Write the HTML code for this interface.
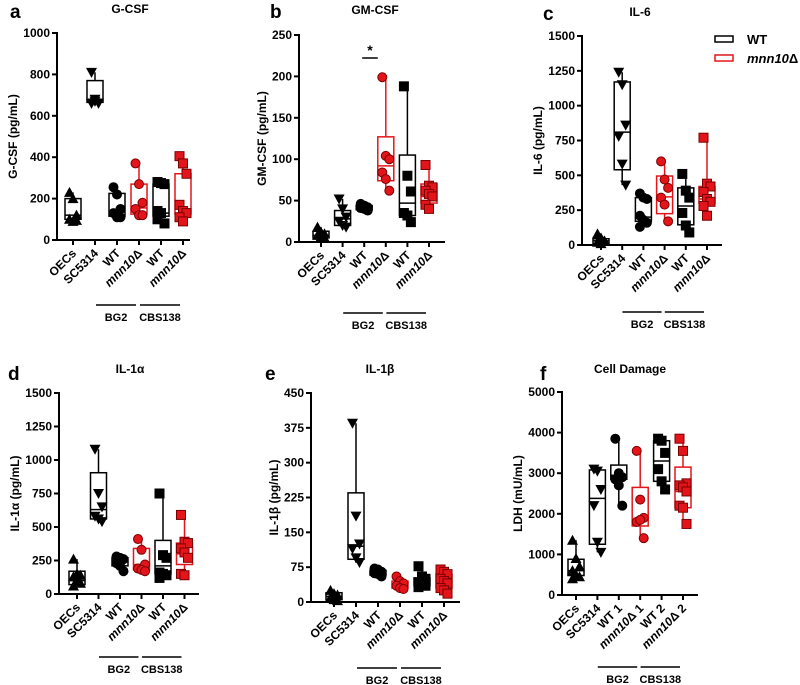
<!DOCTYPE html>
<html><head><meta charset="utf-8"><style>
body{margin:0;background:#fff}
svg{display:block;font-family:"Liberation Sans",sans-serif;font-weight:bold}
</style></head><body>
<svg id="fig" width="800" height="685" viewBox="0 0 800 685" xmlns="http://www.w3.org/2000/svg">
<g>
<rect x="715" y="36" width="18" height="6" fill="#fff" stroke="#000" stroke-width="1.5"/>
<text x="747" y="44" font-size="13">WT</text>
<rect x="715" y="55" width="18" height="6" fill="#fff" stroke="#e3151b" stroke-width="1.5"/>
<text x="747" y="63" font-size="13"><tspan font-style="italic">mnn10</tspan>Δ</text>
</g>
</svg>
<script>
const NS="http://www.w3.org/2000/svg";
const svg=document.getElementById('fig');
const RED="#e3151b";
const catsStd=["OECs","SC5314","WT","mnn10Δ","WT","mnn10Δ"];
const catsF=["OECs","SC5314","WT 1","mnn10Δ 1","WT 2","mnn10Δ 2"];
const shapes=["tri","dtri","circ","circ","sq","sq"];
const colors=["#000","#000","#000",RED,"#000",RED];
// panel a G-CSF
const aPts=[[230,200,120,100,90,95],[810,680,660,660,670],[255,220,150,130,110,110],[370,270,180,150,120,120],[280,275,270,140,130,80,100],[405,370,320,170,140,130,110,90]];
const aBox=[[90,100,120,200,230],[650,665,680,770,810],[110,115,135,225,255],[120,125,155,270,370],[80,115,130,270,280],[90,125,150,320,405]];
const aTicks=[0,200,400,600,800,1000];
// panel b GM-CSF
const bPts=[[18,12,10,8,6,5],[52,40,30,25,20,18],[46,44,42,41,40,38],[199,104,100,84,76,62],[188,80,61,35,32,24],[93,68,66,62,58,55,45,40]];
const bBox=[[3,5,8,13,18],[15,20,28,38,52],[37,39,41,44,46],[62,74,92,127,199],[24,32,47,105,188],[38,47,55,70,93]];
const bTicks=[0,50,100,150,200,250];
// panel c IL-6
const cPts=[[80,50,30,20,10],[1240,1150,860,780,580,430],[370,340,330,210,180,160,130],[600,470,410,340,290,170],[510,390,340,230,140,90],[770,440,420,380,330,310,280,210]];
const cBox=[[0,10,30,45,80],[430,540,810,1170,1240],[120,170,200,340,370],[170,225,345,495,600],[90,145,280,410,510],[200,300,330,420,770]];
const cTicks=[0,250,500,750,1000,1250,1500];
// panel d IL-1a
const dPts=[[260,150,140,130,100,80,60],[1080,750,650,580,560,540],[280,270,260,230,210,170],[410,330,220,190,180,170],[750,290,270,160,150,140,120],[590,390,380,340,310,270,150,140]];
const dBox=[[60,70,100,170,260],[540,560,630,905,1080],[170,210,240,270,280],[170,180,220,340,410],[120,150,210,400,750],[140,220,300,380,590]];
const dTicks=[0,250,500,750,1000,1250,1500];
// panel e IL-1b
const ePts=[[25,18,15,10,5,3],[385,185,125,115,95,85],[72,70,65,62,60,55],[55,45,40,35,30,28],[77,55,50,42,38,35,32],[70,65,60,50,45,40,30,25,18]];
const eBox=[[2,5,12,20,25],[85,92,120,235,385],[52,58,63,68,72],[28,30,38,45,55],[30,35,40,52,77],[18,30,45,60,70]];
const eTicks=[0,75,150,225,300,375,450];
// panel f LDH
const fPts=[[1350,900,700,600,500,450,400],[3100,3050,2600,2200,1300,1050],[3850,3000,2900,2850,2700,2200],[3550,2350,1900,1800,1850,1400],[3850,3800,3500,3100,2800,2600],[3850,3550,2750,2700,2650,2550,2200,2150,1750]];
const fBox=[[400,480,600,880,1350],[1050,1250,2380,3080,3100],[2200,2850,2950,3200,3850],[1400,1700,1850,2650,3550],[2550,2800,3300,3800,3850],[1750,2150,2550,3150,3850]];
const fTicks=[0,1000,2000,3000,4000,5000];

function el(tag,attrs,parent){const e=document.createElementNS(NS,tag);for(const k in attrs)e.setAttribute(k,attrs[k]);(parent||svg).appendChild(e);return e;}

const panels=[
 {id:'a',title:'G-CSF',ytitle:'G-CSF (pg/mL)',pts:aPts,box:aBox,ticks:aTicks,ax:57,ay:240,ytop:33,x0:73,dx:22,xend:190,lx:10,ly:18,tx:130,ty:13,lineY:305,cats:catsStd},
 {id:'b',title:'GM-CSF',ytitle:'GM-CSF (pg/mL)',pts:bPts,box:bBox,ticks:bTicks,ax:299,ay:242,ytop:35,x0:321,dx:21.6,xend:445,lx:270,ly:18,tx:375,ty:14,lineY:313,cats:catsStd,sig:true},
 {id:'c',title:'IL-6',ytitle:'IL-6 (pg/mL)',pts:cPts,box:cBox,ticks:cTicks,ax:582,ay:245,ytop:36,x0:601,dx:21.2,xend:722,lx:543,ly:20,tx:640,ty:16,lineY:312,cats:catsStd},
 {id:'d',title:'IL-1α',ytitle:'IL-1α (pg/mL)',pts:dPts,box:dBox,ticks:dTicks,ax:59,ay:594,ytop:393,x0:77,dx:21.5,xend:199,lx:8,ly:380,tx:130,ty:373,lineY:657,cats:catsStd},
 {id:'e',title:'IL-1β',ytitle:'IL-1β (pg/mL)',pts:ePts,box:eBox,ticks:eTicks,ax:311,ay:602,ytop:393,x0:334,dx:22,xend:460,lx:265,ly:380,tx:380,ty:373,lineY:668,cats:catsStd},
 {id:'f',title:'Cell Damage',ytitle:'LDH (mU/mL)',pts:fPts,box:fBox,ticks:fTicks,ax:562,ay:595,ytop:392,x0:576,dx:21.4,xend:698,lx:540,ly:380,tx:630,ty:373,lineY:667,cats:catsF}
];

function marker(g,shape,x,y,color){
  const stroke=color===RED?"#7a0000":"#000";
  const r=4.5;let m;
  if(shape==='circ')m=el('circle',{cx:x,cy:y,r:r,fill:color,stroke:stroke,'stroke-width':1},g);
  else if(shape==='sq')m=el('rect',{x:x-r,y:y-r,width:2*r,height:2*r,fill:color,stroke:stroke,'stroke-width':1},g);
  else if(shape==='tri')m=el('polygon',{points:`${x},${y-r-1} ${x+r+1},${y+r} ${x-r-1},${y+r}`,fill:color},g);
  else m=el('polygon',{points:`${x},${y+r+1} ${x+r+1},${y-r} ${x-r-1},${y-r}`,fill:color},g);
  
  
}

panels.forEach(p=>{
  const g=el('g',{});
  
  
  const ymax=p.ticks[p.ticks.length-1];
  const Y=v=>p.ay-(v/ymax)*(p.ay-p.ytop);
  const X=i=>p.x0+i*p.dx;
  let t=el('text',{x:p.lx,y:p.ly,'font-size':19},g);t.textContent=p.id;
  
  t=el('text',{x:p.tx,y:p.ty,'font-size':12,'text-anchor':'middle'},g);t.textContent=p.title;
  
  let l=el('line',{x1:p.ax,y1:p.ytop-1,x2:p.ax,y2:p.ay,stroke:'#000','stroke-width':2},g);
  
  l=el('line',{x1:p.ax-1,y1:p.ay,x2:p.xend,y2:p.ay,stroke:'#000','stroke-width':2},g);
  
  p.ticks.forEach(v=>{
    el('line',{x1:p.ax-5,y1:Y(v),x2:p.ax,y2:Y(v),stroke:'#000','stroke-width':2},g);
    const tt=el('text',{x:p.ax-7,y:Y(v)+4,'font-size':12,'text-anchor':'end'},g);tt.textContent=v;
    
  });
  const ymid=(p.ay+p.ytop)/2, ytx=p.ax-(String(ymax).length*7+12);
  t=el('text',{x:ytx,y:ymid,'font-size':12,'text-anchor':'middle',transform:`rotate(-90 ${ytx} ${ymid})`},g);t.textContent=p.ytitle;
  
  p.cats.forEach((c,i)=>{
    const x=X(i);
    el('line',{x1:x,y1:p.ay,x2:x,y2:p.ay+5,stroke:'#000','stroke-width':2},g);
    const tx=x+4,ty=p.ay+14;
    const tt=el('text',{x:tx,y:ty,'font-size':12,'text-anchor':'end',transform:`rotate(-45 ${tx} ${ty})`},g);
    
    if(c.startsWith('mnn10')){const s=el('tspan',{'font-style':'italic'},tt);s.textContent='mnn10';const s2=el('tspan',{},tt);s2.textContent=c.slice(5);}
    else tt.textContent=c;
    const b=p.box[i],col=colors[i];
    const bg=el('g',{},g);
    
    const w=8;
    el('line',{x1:x,y1:Y(b[0]),x2:x,y2:Y(b[4]),stroke:col,'stroke-width':1.5},bg);
    el('rect',{x:x-w,y:Y(b[3]),width:2*w,height:Y(b[1])-Y(b[3]),fill:'#fff',stroke:col,'stroke-width':1.5},bg);
    el('line',{x1:x-w,y1:Y(b[2]),x2:x+w,y2:Y(b[2]),stroke:col,'stroke-width':1.5},bg);
    p.pts[i].forEach((v,j)=>{const off=((j%3)-1)*3.5;marker(bg,shapes[i],x+off,Y(v),col);});
  });
  [[2,'BG2'],[4,'CBS138']].forEach(([k,name])=>{
    const x1=X(k)-21,x2=X(k+1)-3;
    el('line',{x1:x1,y1:p.lineY,x2:x2,y2:p.lineY,stroke:'#000','stroke-width':1.5},g);
    const tt=el('text',{x:(x1+x2)/2,y:p.lineY+16,'font-size':11,'text-anchor':'middle'},g);tt.textContent=name;
    
  });
  if(p.sig){
    el('line',{x1:X(2)-2,y1:58,x2:X(3)-8,y2:58,stroke:'#000','stroke-width':1.5},g);
    const tt=el('text',{x:(X(2)+X(3))/2-5,y:55,'font-size':14,'text-anchor':'middle'},g);tt.textContent='*';
    
  }
});
</script>
</body></html>
